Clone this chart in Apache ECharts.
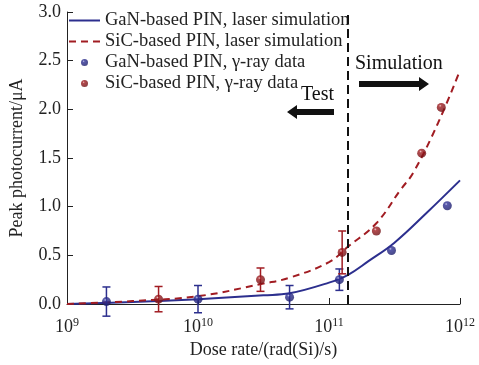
<!DOCTYPE html>
<html><head><meta charset="utf-8">
<script src="https://cdn.jsdelivr.net/npm/echarts@6/dist/echarts.min.js"></script>
<style>html,body{margin:0;padding:0;background:#fff}#c{width:479px;height:365px}</style>
</head><body><div id="c"></div>
<script>
// ---- data ----
const ganSimX = [1e9, 3.16e9, 1e10, 3.16e10, 5e10, 1e11, 1.4e11, 2e11, 3.16e11, 5.6e11, 1e12];
const ganSimY = [0, 0.02, 0.05, 0.09, 0.11, 0.22, 0.30, 0.44, 0.63, 0.94, 1.27];
const sicSimX = [1e9, 3.16e9, 1e10, 3.16e10, 5e10, 1e11, 1.4e11, 2.3e11, 3.5e11, 4.4e11, 6.8e11, 1e12];
const sicSimY = [0, 0.03, 0.08, 0.21, 0.27, 0.43, 0.59, 0.83, 1.17, 1.35, 1.86, 2.4];
const ganDataX = [2e9, 1e10, 5e10, 1.2e11, 3e11, 8e11];
const ganDataY = [0.025, 0.05, 0.07, 0.25, 0.55, 1.01];
const ganErr   = [0.15, 0.14, 0.12, 0.11, null, null];
const sicDataX = [5e9, 3e10, 1.26e11, 2.3e11, 5.1e11, 7.2e11];
const sicDataY = [0.05, 0.25, 0.53, 0.75, 1.55, 2.02];
const sicErr   = [0.13, 0.12, 0.22, null, null, null];
const boundaryX = 1.4e11;
const names = ['GaN-based PIN, laser simulation', 'SiC-based PIN, laser simulation', 'GaN-based PIN, γ-ray data', 'SiC-based PIN, γ-ray data'];

const BLUE = '#2c2f8e', RED = '#a11c22';
const FONT = '"Liberation Serif", "Times New Roman", serif';
function sphere(c, dark, hi){
  return {type:'radial', x:0.38, y:0.32, r:0.7, colorStops:[{offset:0,color:hi},{offset:0.22,color:c},{offset:1,color:dark}]};
}
const zip = (a,b)=>a.map((v,i)=>[v,b[i]]);
function errData(xs, ys, es){ return xs.map((x,i)=>[x, ys[i], es[i]]).filter(d=>d[2]!=null); }
function errSeries(xs, ys, es, color){
  return {
    type:'custom', silent:true, z:3,
    data: errData(xs, ys, es),
    renderItem: function(params, api){
      const x = api.value(0), y = api.value(1), e = api.value(2);
      const top = api.coord([x, y + e]);
      const bot = api.coord([x, y - e]);
      const hw = 4;
      const st = {stroke: color, lineWidth: 1.5, fill: null};
      return {type:'group', children:[
        {type:'line', shape:{x1:top[0], y1:top[1], x2:bot[0], y2:bot[1]}, style:st},
        {type:'line', shape:{x1:top[0]-hw, y1:top[1], x2:top[0]+hw, y2:top[1]}, style:st},
        {type:'line', shape:{x1:bot[0]-hw, y1:bot[1], x2:bot[0]+hw, y2:bot[1]}, style:st}
      ]};
    }
  };
}

const chart = echarts.init(document.getElementById('c'));
chart.setOption({
  backgroundColor:'#fff',
  animation:false,
  textStyle:{fontFamily:FONT},
  grid:{left:67, right:19, top:12, bottom:61},
  legend:{
    data: [
      {name:names[0], itemStyle:{opacity:0}},
      {name:names[1], itemStyle:{opacity:0}},
      {name:names[2]},
      {name:names[3]}
    ],
    orient:'vertical', left:68, top:11, itemWidth:31, itemHeight:7, itemGap:2,
    textStyle:{fontFamily:FONT, fontSize:18.5, lineHeight:18, color:'#222'}, padding:0
  },
  xAxis:{
    type:'log', logBase:10, min:1e9, max:1e12,
    name:'Dose rate/(rad(Si)/s)', nameLocation:'middle', nameGap:36,
    nameTextStyle:{fontFamily:FONT, fontSize:18, color:'#222'},
    axisLine:{lineStyle:{color:'#222', width:1}},
    axisTick:{inside:true, length:6, lineStyle:{color:'#222'}},
    minorTick:{show:false}, splitLine:{show:false},
    axisLabel:{
      margin:13, color:'#222',
      formatter: v => '{b|10}{s|' + Math.round(Math.log10(v)) + '}',
      rich:{ b:{fontFamily:FONT, fontSize:18, color:'#222'}, s:{fontFamily:FONT, fontSize:12, color:'#222', verticalAlign:'top', padding:[0,0,8,0]} }
    }
  },
  yAxis:{
    type:'value', min:0, max:3, interval:0.5,
    name:'Peak photocurrent/μA', nameLocation:'middle', nameGap:41,
    nameTextStyle:{fontFamily:FONT, fontSize:18, color:'#222'},
    axisLine:{show:true, lineStyle:{color:'#222', width:1}},
    axisTick:{show:true, inside:true, length:6, lineStyle:{color:'#222'}},
    splitLine:{show:false},
    axisLabel:{fontFamily:FONT, fontSize:18, color:'#222', margin:6, formatter: v => v.toFixed(1)}
  },
  series:[
    {name:names[0], type:'line', data:zip(ganSimX, ganSimY), smooth:0.4, showSymbol:false, symbol:'none',
     lineStyle:{color:BLUE, width:2}, itemStyle:{color:BLUE}, z:2},
    {name:names[1], type:'line', data:zip(sicSimX, sicSimY), smooth:0.4, showSymbol:false, symbol:'none',
     lineStyle:{color:RED, width:2, type:[7,5]}, itemStyle:{color:RED}, z:2,
     markLine:{silent:true, symbol:'none', label:{show:false},
       lineStyle:{color:'#111', width:2, type:[9,5]},
       data:[[{coord:[boundaryX, 0], y:304}, {coord:[boundaryX, 3], y:12}]]}},
    errSeries(ganDataX, ganDataY, ganErr, BLUE),
    errSeries(sicDataX, sicDataY, sicErr, RED),
    {name:names[2], type:'scatter', data:zip(ganDataX, ganDataY), symbolSize:9,
     itemStyle:{color:sphere('#2f3196', '#1c1d6a', '#b8b8e0')}, z:4},
    {name:names[3], type:'scatter', data:zip(sicDataX, sicDataY), symbolSize:9,
     itemStyle:{color:sphere('#a01c20', '#6e1014', '#e8b8b8')}, z:4}
  ],
  graphic:[
    {type:'text', left:355, top:54, style:{text:'Simulation', font:'20px '+FONT, fill:'#111'}},
    {type:'polygon', shape:{points:[[359,81],[419,81],[419,77],[429,84],[419,91],[419,87],[359,87]]}, style:{fill:'#111'}},
    {type:'text', left:301, top:85, style:{text:'Test', font:'20px '+FONT, fill:'#111'}},
    {type:'polygon', shape:{points:[[334,109],[297,109],[297,105],[287,112],[297,119],[297,115],[334,115]]}, style:{fill:'#111'}}
  ]
});
</script></body></html>
